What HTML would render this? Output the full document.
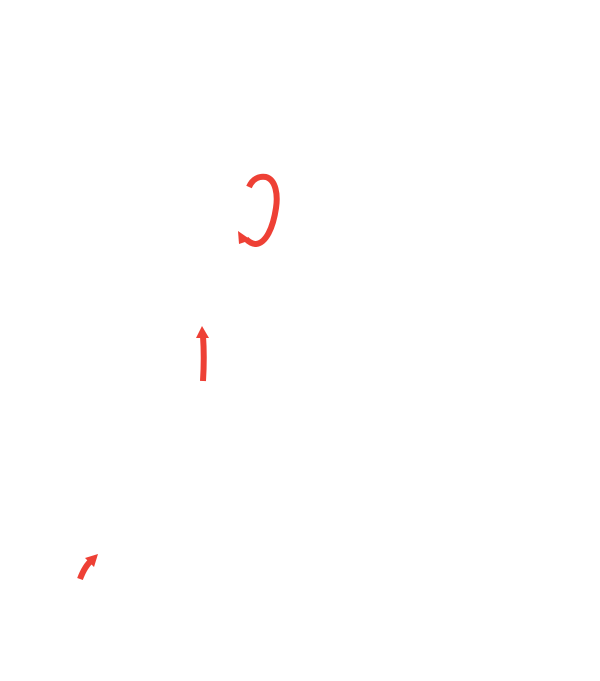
<!DOCTYPE html>
<html><head><style>html,body{margin:0;padding:0;background:#fff;width:600px;height:681px;overflow:hidden}</style></head>
<body>
<svg width="600" height="681" viewBox="0 0 600 681" xmlns="http://www.w3.org/2000/svg">
<g fill="none" stroke="#ee4035" stroke-width="6" stroke-linecap="butt">
<path d="M249,187 C253,178 260,176 266,177 C276,180 278,195 276,208 C273,228 266,243 256,244 C252,244 249,242 246,239"/>
<path d="M203,381 C204,365 204,350 203,336"/>
<path d="M80,579 C83,571 87,564 92,560"/>
</g>
<g fill="#ee4035">
<polygon points="238,231 251,240 239,244"/>
<polygon points="202,326 196,338 209,338"/>
<polygon points="98,554 85,558 94,567"/>
</g>
</svg>
</body></html>
